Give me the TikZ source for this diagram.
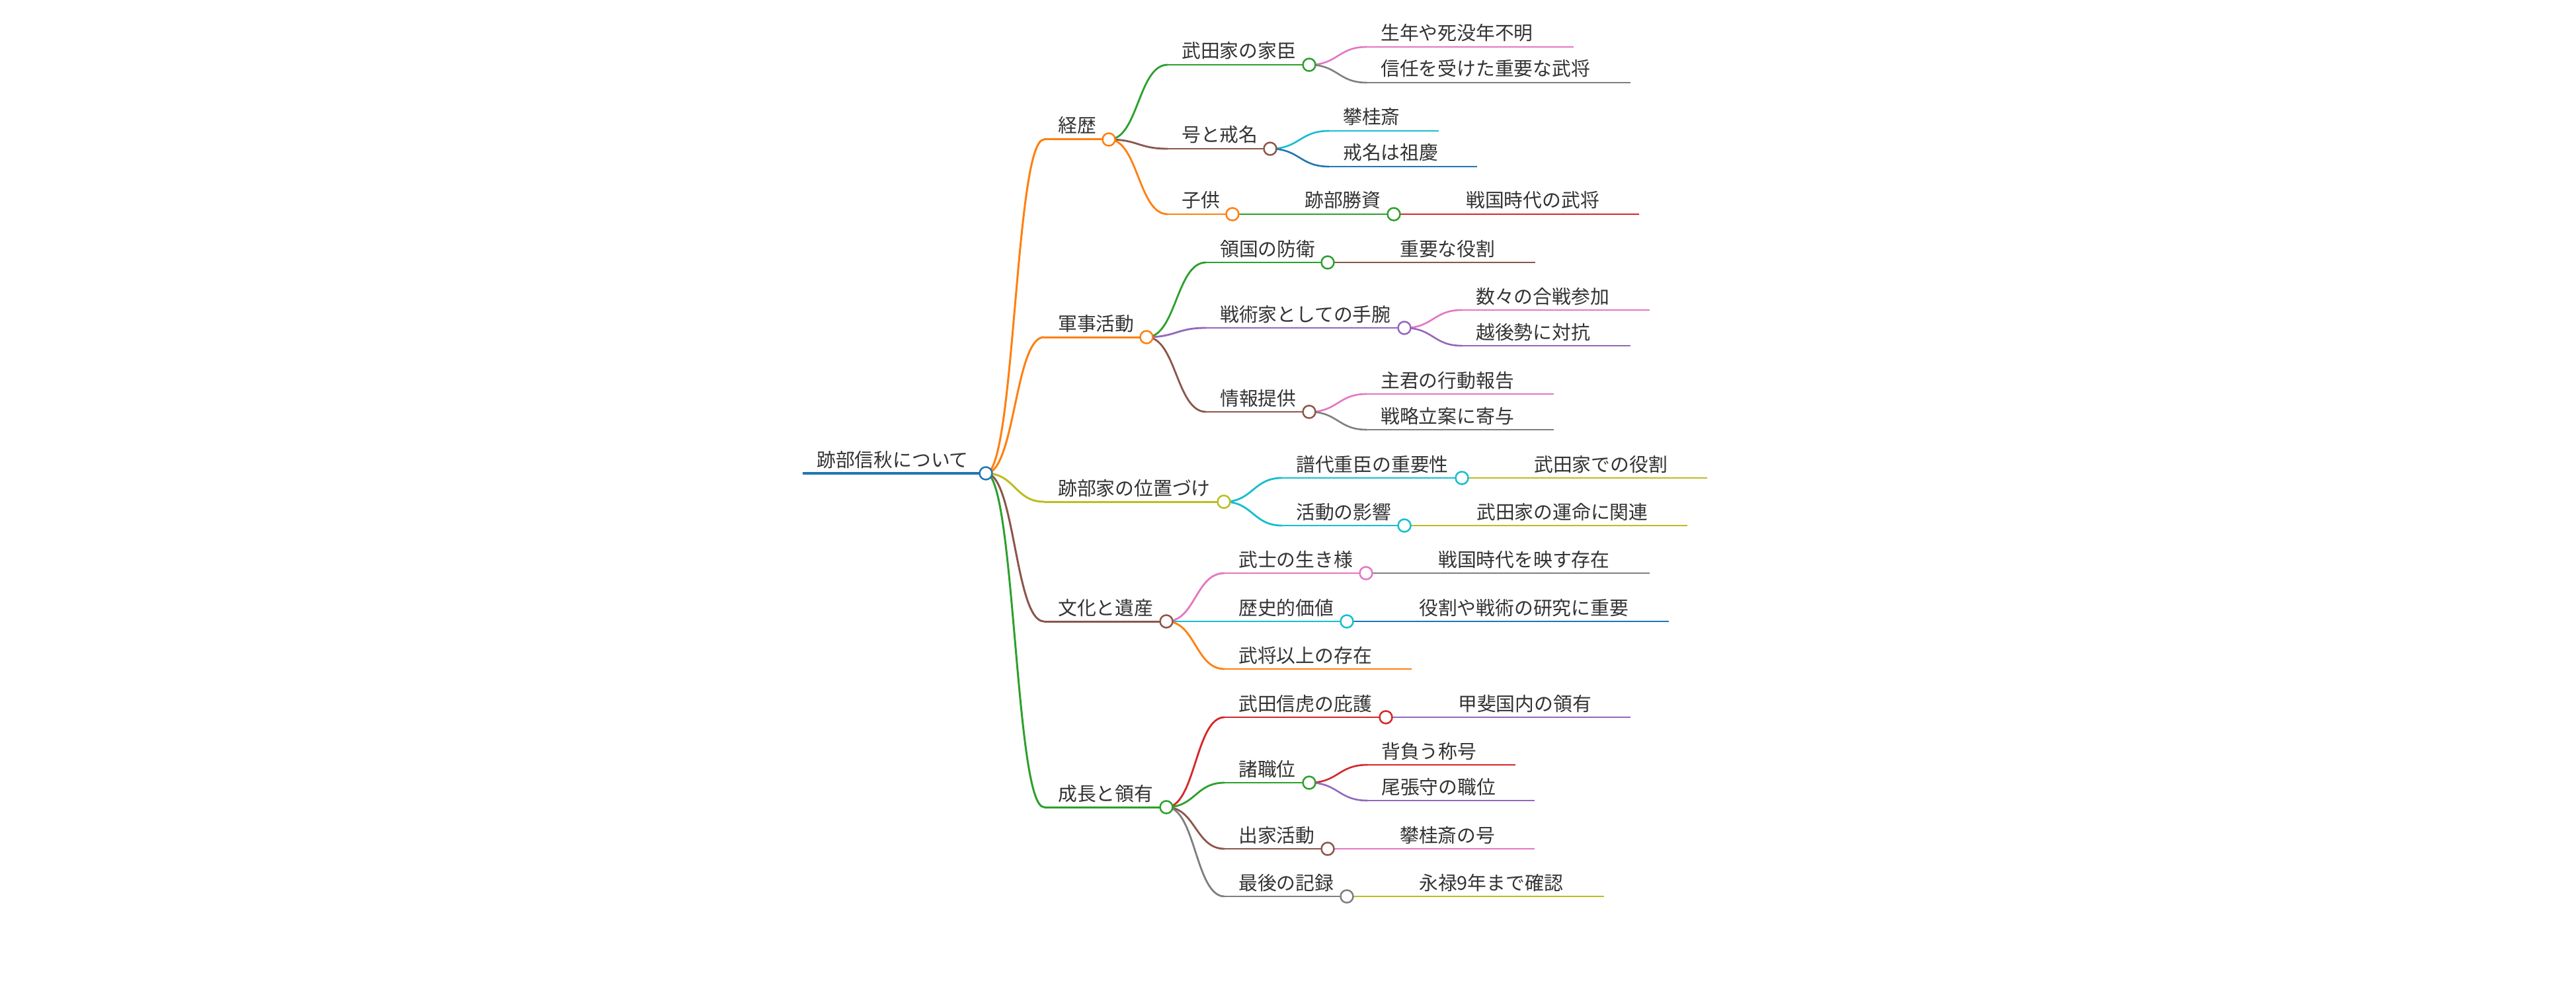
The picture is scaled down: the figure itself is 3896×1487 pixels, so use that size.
\documentclass[tikz,border=0pt]{standalone}
\usepackage{fontspec}
\newfontfamily\jp{Noto Sans CJK JP}
\usetikzlibrary{calc}
\pgfdeclarelayer{back}
\pgfdeclarelayer{bg}
\pgfsetlayers{back,bg,main}
\definecolor{mblue}{HTML}{1F77B4}
\definecolor{morange}{HTML}{FF7F0E}
\definecolor{mgreen}{HTML}{2CA02C}
\definecolor{mred}{HTML}{D62728}
\definecolor{mpurple}{HTML}{9467BD}
\definecolor{mbrown}{HTML}{8C564B}
\definecolor{mpink}{HTML}{E377C2}
\definecolor{mgray}{HTML}{7F7F7F}
\definecolor{molive}{HTML}{BCBD22}
\definecolor{mcyan}{HTML}{17BECF}
\definecolor{txt}{HTML}{333333}
\tikzset{
  dot/.style={circle,draw=#1,fill=white,line width=2.5,minimum size=19,inner sep=0pt},
  lbl/.style={anchor=base west,inner sep=0pt,text=txt,font=\jp\fontsize{28.8}{34}\selectfont},
  w0/.style={line width=4},
  w1/.style={line width=3},
  w2/.style={line width=2.8},
  w3/.style={line width=2.6},
  link/.style={to path={let \p1=(\tikztostart), \p2=(\tikztotarget) in
     .. controls ({(\x1+\x2)/2},\y1) and ({(\x1+\x2)/2},\y2) .. (\tikztotarget)}},
}
\newcommand\mmbranch[7]{%
  \coordinate (#1-s) at (#3,#5);
  \node[dot=#2] (#1) at (#4,#5) {};
  \node[lbl] (#1-t) at ({#3+21},{#5-10}) {#6};
  \begin{pgfonlayer}{bg}\draw[#2,#7] (#1-s) -- (#1.center);\end{pgfonlayer}}
\newcommand\mmleaf[7]{%
  \coordinate (#1-s) at (#3,#5);
  \coordinate (#1) at (#4,#5);
  \node[lbl] (#1-t) at ({#3+21},{#5-10}) {#6};
  \begin{pgfonlayer}{bg}\draw[#2,#7] (#1-s) -- (#1);\end{pgfonlayer}}
\newcommand\mmlink[4]{%
  \begin{pgfonlayer}{bg}\draw[#3,#4] (#1.center) to[link] (#2-s);\end{pgfonlayer}}
\begin{document}
\begin{tikzpicture}[x=1pt,y=-1pt]
\begin{pgfonlayer}{back}
\fill[white] (0,0) rectangle (3896,1487);
\end{pgfonlayer}
\useasboundingbox (0,0) rectangle (3896,1487);
% root
\mmbranch{root}{mblue}{1214}{1491}{716}{跡部信秋について}{w0}
% depth 1
\mmbranch{a}{morange}{1579}{1677}{211}{経歴}{w1}
\mmbranch{b}{morange}{1579}{1734}{510}{軍事活動}{w1}
\mmbranch{c}{molive}{1579}{1851}{759}{跡部家の位置づけ}{w1}
\mmbranch{d}{mbrown}{1579}{1764}{940}{文化と遺産}{w1}
\mmbranch{e}{mgreen}{1579}{1764}{1221}{成長と領有}{w1}
\mmlink{root}{a}{morange}{w1}
\mmlink{root}{b}{morange}{w1}
\mmlink{root}{c}{molive}{w1}
\mmlink{root}{d}{mbrown}{w1}
\mmlink{root}{e}{mgreen}{w1}
% 経歴
\mmbranch{a1}{mgreen}{1766}{1980}{98}{武田家の家臣}{w2}
\mmbranch{a2}{mbrown}{1766}{1921}{225}{号と戒名}{w2}
\mmbranch{a3}{morange}{1766}{1864}{324}{子供}{w2}
\mmlink{a}{a1}{mgreen}{w2}
\mmlink{a}{a2}{mbrown}{w2}
\mmlink{a}{a3}{morange}{w2}
\mmleaf{a1x}{mpink}{2067}{2380}{71}{生年や死没年不明}{w3}
\mmleaf{a1y}{mgray}{2067}{2466}{125}{信任を受けた重要な武将}{w3}
\mmlink{a1}{a1x}{mpink}{w3}
\mmlink{a1}{a1y}{mgray}{w3}
\mmleaf{a2x}{mcyan}{2010}{2176}{198}{攀桂斎}{w3}
\mmleaf{a2y}{mblue}{2010}{2234}{252}{戒名は祖慶}{w3}
\mmlink{a2}{a2x}{mcyan}{w3}
\mmlink{a2}{a2y}{mblue}{w3}
\mmbranch{a3x}{mgreen}{1952}{2108}{324}{跡部勝資}{w3}
\mmlink{a3}{a3x}{mgreen}{w3}
\mmleaf{a3xx}{mred}{2196}{2479}{324}{戦国時代の武将}{w3}
\mmlink{a3x}{a3xx}{mred}{w3}
% 軍事活動
\mmbranch{b1}{mgreen}{1824}{2008}{397}{領国の防衛}{w2}
\mmbranch{b2}{mpurple}{1824}{2124}{496}{戦術家としての手腕}{w2}
\mmbranch{b3}{mbrown}{1824}{1980}{623}{情報提供}{w2}
\mmlink{b}{b1}{mgreen}{w2}
\mmlink{b}{b2}{mpurple}{w2}
\mmlink{b}{b3}{mbrown}{w2}
\mmleaf{b1x}{mbrown}{2096}{2322}{397}{重要な役割}{w3}
\mmlink{b1}{b1x}{mbrown}{w3}
\mmleaf{b2x}{mpink}{2211}{2495}{469}{数々の合戦参加}{w3}
\mmleaf{b2y}{mpurple}{2211}{2466}{523}{越後勢に対抗}{w3}
\mmlink{b2}{b2x}{mpink}{w3}
\mmlink{b2}{b2y}{mpurple}{w3}
\mmleaf{b3x}{mpink}{2067}{2350}{596}{主君の行動報告}{w3}
\mmleaf{b3y}{mgray}{2067}{2350}{650}{戦略立案に寄与}{w3}
\mmlink{b3}{b3x}{mpink}{w3}
\mmlink{b3}{b3y}{mgray}{w3}
% 跡部家の位置づけ
\mmbranch{c1}{mcyan}{1939}{2211}{723}{譜代重臣の重要性}{w2}
\mmbranch{c2}{mcyan}{1939}{2124}{795}{活動の影響}{w2}
\mmlink{c}{c1}{mcyan}{w2}
\mmlink{c}{c2}{mcyan}{w2}
\mmleaf{c1x}{molive}{2299}{2582}{723}{武田家での役割}{w3}
\mmlink{c1}{c1x}{molive}{w3}
\mmleaf{c2x}{molive}{2212}{2552}{795}{武田家の運命に関連}{w3}
\mmlink{c2}{c2x}{molive}{w3}
% 文化と遺産
\mmbranch{d1}{mpink}{1852}{2066}{867}{武士の生き様}{w2}
\mmbranch{d2}{mcyan}{1852}{2037}{940}{歴史的価値}{w2}
\mmleaf{d3}{morange}{1852}{2135}{1012}{武将以上の存在}{w2}
\mmlink{d}{d1}{mpink}{w2}
\mmlink{d}{d2}{mcyan}{w2}
\mmlink{d}{d3}{morange}{w2}
\mmleaf{d1x}{mgray}{2154}{2495}{867}{戦国時代を映す存在}{w3}
\mmlink{d1}{d1x}{mgray}{w3}
\mmleaf{d2x}{mblue}{2125}{2524}{940}{役割や戦術の研究に重要}{w3}
\mmlink{d2}{d2x}{mblue}{w3}
% 成長と領有
\mmbranch{e1}{mred}{1852}{2096}{1085}{武田信虎の庇護}{w2}
\mmbranch{e2}{mgreen}{1852}{1980}{1184}{諸職位}{w2}
\mmbranch{e3}{mbrown}{1852}{2008}{1284}{出家活動}{w2}
\mmbranch{e4}{mgray}{1852}{2037}{1356}{最後の記録}{w2}
\mmlink{e}{e1}{mred}{w2}
\mmlink{e}{e2}{mgreen}{w2}
\mmlink{e}{e3}{mbrown}{w2}
\mmlink{e}{e4}{mgray}{w2}
\mmleaf{e1x}{mpurple}{2184}{2466}{1085}{甲斐国内の領有}{w3}
\mmlink{e1}{e1x}{mpurple}{w3}
\mmleaf{e2x}{mred}{2068}{2292}{1157}{背負う称号}{w3}
\mmleaf{e2y}{mpurple}{2068}{2321}{1211}{尾張守の職位}{w3}
\mmlink{e2}{e2x}{mred}{w3}
\mmlink{e2}{e2y}{mpurple}{w3}
\mmleaf{e3x}{mpink}{2096}{2321}{1284}{攀桂斎の号}{w3}
\mmlink{e3}{e3x}{mpink}{w3}
\mmleaf{e4x}{molive}{2125}{2426}{1356}{永禄9年まで確認}{w3}
\mmlink{e4}{e4x}{molive}{w3}
\end{tikzpicture}
\end{document}
